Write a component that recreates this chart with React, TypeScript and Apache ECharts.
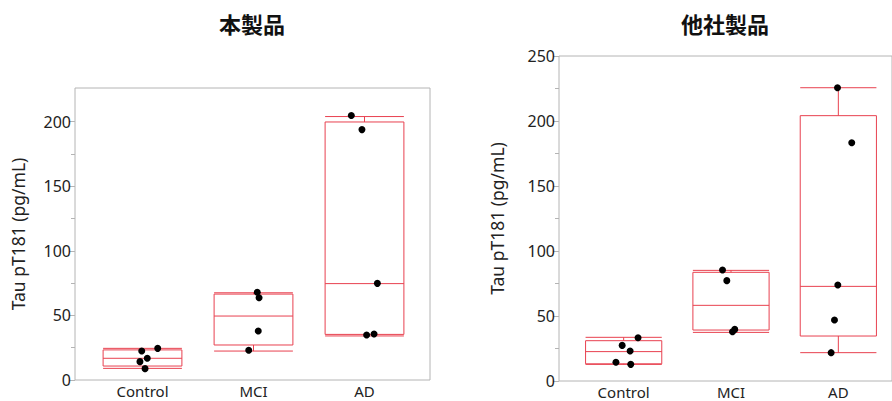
import React, { useEffect, useRef } from "react";
import * as echarts from "echarts";

const categories = ["Control", "MCI", "AD"];
const yTicksLeft = [0, 50, 100, 150, 200];
const yMinorLeft = [25, 75, 125, 175];
const yTicksRight = [0, 50, 100, 150, 200, 250];
const yMinorRight = [25, 75, 125, 175, 225];

// [min, Q1, median, Q3, max]
const boxLeft = [
  [9.0, 10.8, 16.8, 23.3, 24.5],
  [22.4, 27.1, 49.5, 66.5, 67.5],
  [34.1, 35.3, 74.6, 199.7, 203.9],
];
const boxRight = [
  [12.8, 13.2, 22.6, 31.0, 33.6],
  [37.4, 39.2, 58.2, 83.6, 85.1],
  [21.8, 34.6, 72.8, 204.1, 225.6],
];

// individual samples per category, with horizontal jitter (fraction of a category band)
const pointsLeft = [
  [8.8, 14.2, 16.8, 22.4, 24.5],
  [23.0, 37.9, 63.7, 67.9],
  [34.8, 35.6, 74.8, 193.8, 204.7],
];
const jitterLeft = [
  [0.023, -0.023, 0.043, -0.007, 0.137],
  [-0.043, 0.043, 0.05, 0.034],
  [0.019, 0.086, 0.116, -0.023, -0.119],
];
const pointsRight = [
  [12.8, 14.4, 23.1, 27.4, 33.3],
  [37.9, 39.7, 77.2, 85.4],
  [21.8, 46.9, 73.8, 183.3, 225.6],
];
const jitterRight = [
  [0.066, -0.072, 0.06, -0.014, 0.134],
  [0.014, 0.035, -0.039, -0.079],
  [-0.067, -0.036, -0.005, 0.125, -0.008],
];

const RED = "#e8414f";
const GRAY = "#b4b4b4";
const TXT = "#222";
const FONT = "'Noto Sans', 'Open Sans', sans-serif";

function toScatter(points: number[][], jitter: number[][]) {
  const out: number[][] = [];
  points.forEach((arr, i) => arr.forEach((v, j) => out.push([i + jitter[i][j], v])));
  return out;
}

export default function App() {
  const ref = useRef<HTMLDivElement>(null);
  useEffect(() => {
    if (!ref.current) return;
    const chart = echarts.init(ref.current, undefined, { renderer: "svg" });

    const yMain = (grid: number, max: number, ticks: number[], offset: number, gap: number) => ({
      type: "value",
      gridIndex: grid,
      position: "left",
      min: 0,
      max,
      interval: 50,
      offset,
      name: "Tau pT181 (pg/mL)",
      nameLocation: "middle",
      nameGap: gap,
      nameTextStyle: { color: TXT, fontSize: 17.5, fontFamily: FONT },
      axisLine: { show: false, onZero: false },
      axisTick: { show: true, length: 6, lineStyle: { color: GRAY }, customValues: ticks },
      axisLabel: { color: TXT, fontSize: 16, fontFamily: FONT, margin: 4, customValues: ticks },
      splitLine: { show: false },
    });
    const yMinor = (grid: number, max: number, ticks: number[], offset: number) => ({
      type: "value",
      gridIndex: grid,
      position: "left",
      min: 0,
      max,
      interval: 50,
      offset,
      axisLine: { show: false, onZero: false },
      axisTick: { show: true, length: 4, lineStyle: { color: GRAY }, customValues: ticks },
      axisLabel: { show: false },
      splitLine: { show: false },
    });
    const xCat = (grid: number, margin: number) => ({
      type: "category",
      gridIndex: grid,
      position: "bottom",
      data: categories,
      boundaryGap: true,
      axisLine: { show: false, onZero: false },
      axisTick: { show: false },
      axisLabel: { color: TXT, fontSize: 15, lineHeight: 14, fontFamily: FONT, margin },
      splitLine: { show: false },
    });
    const xVal = (grid: number) => ({
      type: "value",
      gridIndex: grid,
      position: "bottom",
      min: -0.5,
      max: 2.5,
      show: false,
      axisLine: { onZero: false },
    });

    const boxSeries = (xi: number, yi: number, data: number[][]) => ({
      type: "boxplot",
      xAxisIndex: xi,
      yAxisIndex: yi,
      data,
      boxWidth: ["71%", "71%"],
      itemStyle: { color: "rgba(0,0,0,0)", borderColor: RED, borderWidth: 1 },
      emphasis: { disabled: true },
      silent: true,
    });
    const scatterSeries = (xi: number, yi: number, data: number[][]) => ({
      type: "scatter",
      xAxisIndex: xi,
      yAxisIndex: yi,
      data,
      symbolSize: 7,
      itemStyle: { color: "#000", opacity: 1 },
      silent: true,
      z: 5,
    });

    chart.setOption({
      animation: false,
      graphic: [
        {
          type: "text",
          x: 252,
          y: 23,
          style: {
            text: "本製品",
            fontSize: 22,
            fontWeight: "bold",
            fontFamily: "'Noto Sans CJK JP', sans-serif",
            fill: "#111",
            align: "center",
            verticalAlign: "middle",
          },
        },
        {
          type: "text",
          x: 725,
          y: 23,
          style: {
            text: "他社製品",
            fontSize: 22,
            fontWeight: "bold",
            fontFamily: "'Noto Sans CJK JP', sans-serif",
            fill: "#111",
            align: "center",
            verticalAlign: "middle",
          },
        },
      ],
      grid: [
        { left: 75, right: 462, top: 88, bottom: 21, show: true, borderColor: GRAY, borderWidth: 1, backgroundColor: "transparent" },
        { left: 87, right: 472, top: 88, bottom: 21 },
        { left: 559, right: -12, top: 56, bottom: 20, show: true, borderColor: GRAY, borderWidth: 1, backgroundColor: "transparent" },
        { left: 570, right: -1, top: 56, bottom: 20 },
      ],
      xAxis: [xCat(1, 4), xVal(1), xCat(3, 4), xVal(3)],
      yAxis: [
        yMain(1, 226, yTicksLeft, 12, 48),
        yMinor(1, 226, yMinorLeft, 12),
        yMain(3, 250, yTicksRight, 11, 53),
        yMinor(3, 250, yMinorRight, 11),
      ],
      series: [
        boxSeries(0, 0, boxLeft),
        scatterSeries(1, 0, toScatter(pointsLeft, jitterLeft)),
        boxSeries(2, 2, boxRight),
        scatterSeries(3, 2, toScatter(pointsRight, jitterRight)),
      ],
    });
    return () => chart.dispose();
  }, []);
  return (
    <div
      ref={ref}
      style={{ position: "fixed", left: 0, top: 0, width: 892, height: 401, background: "#fff" }}
    />
  );
}
